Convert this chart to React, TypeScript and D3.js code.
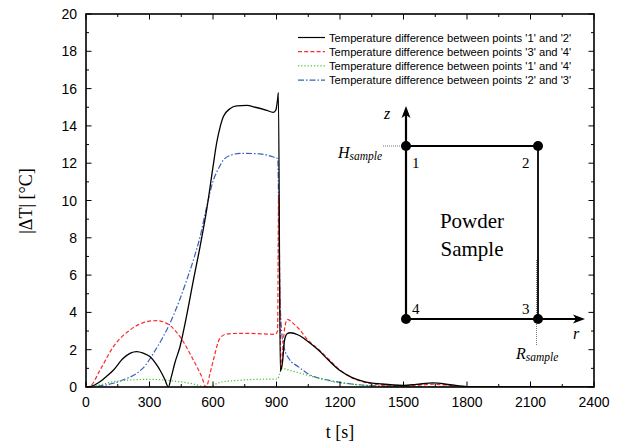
import React from "react";
import * as d3 from "d3";

const xTicks = [0, 300, 600, 900, 1200, 1500, 1800, 2100, 2400];
const yTicks = [0, 2, 4, 6, 8, 10, 12, 14, 16, 18, 20];

const legendLabels = [
  "Temperature difference between points '1' and '2'",
  "Temperature difference between points '3' and '4'",
  "Temperature difference between points '1' and '4'",
  "Temperature difference between points '2' and '3'",
];

// t [s], |dT| [°C]
const series12: [number, number][] = [
  [0, 0], [19, 0.02], [66, 0.28], [100, 0.6], [129, 0.9], [176, 1.54], [210, 1.82], [239, 1.9], [270, 1.82],
  [302, 1.63], [330, 1.25], [350, 0.9], [372, 0.42], [389, 0], [402, 0.5], [420, 1.3], [444, 2.16],
  [475, 3.8], [507, 5.7], [540, 7.6], [570, 9.5], [600, 11.8], [617, 13.07], [635, 14.0], [649, 14.5],
  [680, 14.92], [712, 15.07], [760, 15.1], [800, 15.0], [850, 14.85], [885, 14.73], [897, 14.85],
  [905, 15.4], [909, 15.78], [918, 0.85], [928, 1.3], [938, 2.5], [950, 2.85], [964, 2.91],
  [1003, 2.79], [1050, 2.43], [1098, 1.98], [1145, 1.45], [1200, 0.88], [1255, 0.52], [1318, 0.28],
  [1397, 0.16], [1500, 0.09], [1560, 0.14], [1640, 0.22], [1720, 0.12], [1800, 0.02], [1900, 0], [2400, 0],
];

const series34: [number, number][] = [
  [0, 0], [20, 0.05], [66, 0.9], [129, 2.16], [208, 3.06], [287, 3.5], [334, 3.56], [397, 3.3],
  [444, 2.7], [507, 1.45], [545, 0.6], [568, 0], [586, 0.73], [602, 1.45], [633, 2.62], [665, 2.84],
  [728, 2.88], [854, 2.84], [893, 2.82], [905, 3.0], [910, 10.3], [916, 5.0], [921, 0.9], [932, 2.5],
  [945, 3.5], [953, 3.63], [975, 3.45], [1003, 3.15], [1050, 2.5], [1100, 2.0], [1150, 1.45],
  [1200, 0.9], [1255, 0.5], [1318, 0.25], [1400, 0.1], [1500, 0.05], [1560, 0.08], [1640, 0.15],
  [1720, 0.08], [1800, 0.02], [1900, 0], [2400, 0],
];

const series14: [number, number][] = [
  [0, 0], [60, 0.1], [129, 0.28], [200, 0.37], [302, 0.41], [360, 0.38], [430, 0.3], [500, 0.18],
  [575, 0], [633, 0.25], [700, 0.34], [760, 0.39], [850, 0.42], [905, 0.43], [914, 0.7], [925, 1.0],
  [960, 0.9], [1003, 0.77], [1082, 0.52], [1160, 0.3], [1255, 0.15], [1350, 0.07], [1500, 0.02],
  [1600, 0], [2400, 0],
];

const series23: [number, number][] = [
  [0, 0], [60, 0.05], [129, 0.2], [180, 0.4], [239, 0.73], [280, 1.15], [318, 1.8], [360, 2.6],
  [397, 3.43], [440, 4.6], [476, 5.74], [510, 6.9], [539, 8.06], [570, 9.67], [602, 11.1], [630, 11.8],
  [649, 12.17], [690, 12.45], [728, 12.53], [822, 12.5], [893, 12.3], [906, 12.25], [914, 6.0],
  [924, 3.0], [935, 2.16], [960, 1.5], [1003, 1.09], [1050, 0.7], [1145, 0.37], [1255, 0.16],
  [1350, 0.07], [1500, 0.02], [1600, 0], [2400, 0],
];

const seriesList = [series12, series34, series14, series23];
const colors = ["#000000", "#ff2a2a", "#3fc22a", "#3a5fc0"];
const dashes = ["none", "4,2.2", "1.2,2", "6,2,1.5,2"];

const W = 621;
const H = 447;
const L = 86, R = 594, T = 14, B = 387;

export default function App() {
  const x = d3.scaleLinear().domain([0, 2400]).range([L, R]);
  const y = d3.scaleLinear().domain([0, 20]).range([B, T]);
  const line = d3
    .line<[number, number]>()
    .x((d) => x(d[0]))
    .y((d) => y(d[1]))
    .curve(d3.curveMonotoneX);

  const xMinor = d3.range(0, 2401, 150);
  const yMinor = d3.range(0, 21, 1);
  const tickFont = "'Liberation Sans', Arial, Helvetica, sans-serif";
  const serif = "'Liberation Serif', 'Times New Roman', Times, serif";

  // inset geometry
  const ix0 = 406, ix1 = 538, iy0 = 146, iy1 = 319;

  return (
    <svg
      width={W}
      height={H}
      style={{ position: "absolute", left: 0, top: 0, background: "#fff" }}
      xmlns="http://www.w3.org/2000/svg"
    >
      <defs>
        <clipPath id="plotclip">
          <rect x={L} y={T} width={R - L} height={B - T} />
        </clipPath>
      </defs>
      <rect x={0} y={0} width={W} height={H} fill="#fff" />

      {/* data lines */}
      <g clipPath="url(#plotclip)">
        {[3, 2, 1, 0].map((i) => (
          <path
            key={i}
            d={line(seriesList[i]) || ""}
            fill="none"
            stroke={colors[i]}
            strokeWidth={i === 0 ? 1.3 : 1.2}
            strokeDasharray={dashes[i]}
          />
        ))}
      </g>

      {/* ticks */}
      <g stroke="#000" strokeWidth={1}>
        {xMinor.map((t) => {
          const major = t % 300 === 0;
          const len = major ? 5.5 : 3;
          return (
            <g key={"xt" + t}>
              <line x1={x(t)} x2={x(t)} y1={B} y2={B - len} />
              <line x1={x(t)} x2={x(t)} y1={T} y2={T + len} />
            </g>
          );
        })}
        {yMinor.map((v) => {
          const major = v % 2 === 0;
          const len = major ? 5.5 : 3;
          return (
            <g key={"yt" + v}>
              <line x1={L} x2={L + len} y1={y(v)} y2={y(v)} />
              <line x1={R} x2={R - len} y1={y(v)} y2={y(v)} />
            </g>
          );
        })}
      </g>

      {/* frame */}
      <rect x={L} y={T} width={R - L} height={B - T} fill="none" stroke="#000" strokeWidth={1.6} />

      {/* tick labels */}
      <g fontFamily={tickFont} fontSize={14} fill="#000">
        {xTicks.map((t) => (
          <text key={"xl" + t} x={x(t)} y={407} textAnchor="middle">
            {t}
          </text>
        ))}
        {yTicks.map((v) => (
          <text key={"yl" + v} x={77} y={y(v) + 5} textAnchor="end">
            {v}
          </text>
        ))}
      </g>

      {/* axis titles */}
      <text x={340} y={438} fontFamily={serif} fontSize={18} textAnchor="middle" fill="#000">
        t [s]
      </text>
      <text
        transform="translate(32,201) rotate(-90)"
        fontFamily={serif}
        fontSize={18}
        textAnchor="middle"
        fill="#000"
      >
        |ΔT| [°C]
      </text>

      {/* legend */}
      <g>
        {legendLabels.map((lab, i) => {
          const yy = 37.5 + i * 14.2;
          return (
            <g key={"lg" + i}>
              <line
                x1={298}
                x2={325}
                y1={yy}
                y2={yy}
                stroke={colors[i]}
                strokeWidth={1.2}
                strokeDasharray={dashes[i]}
              />
              <text x={329} y={yy + 4} fontFamily={tickFont} fontSize={11.2} fill="#000">
                {lab}
              </text>
            </g>
          );
        })}
      </g>

      {/* inset diagram */}
      <g>
        {/* dotted guides */}
        <line x1={383} x2={404} y1={iy0} y2={iy0} stroke="#777" strokeWidth={1} strokeDasharray="1,1" />
        <line x1={536.5} x2={536.5} y1={260} y2={345} stroke="#777" strokeWidth={1} strokeDasharray="1,1" />
        {/* rectangle */}
        <line x1={ix0} x2={ix1} y1={iy0} y2={iy0} stroke="#000" strokeWidth={2} />
        <line x1={ix1} x2={ix1} y1={iy0} y2={iy1} stroke="#000" strokeWidth={1.8} />
        <line x1={ix0} x2={ix1} y1={iy1} y2={iy1} stroke="#000" strokeWidth={2} />
        {/* z axis */}
        <line x1={ix0} x2={ix0} y1={iy1} y2={112} stroke="#000" strokeWidth={2.2} />
        <path d={`M${ix0},106 L${ix0 - 4.5},118 L${ix0},115 L${ix0 + 4.5},118 Z`} fill="#000" />
        {/* r axis */}
        <line x1={ix0} x2={578} y1={iy1} y2={iy1} stroke="#000" strokeWidth={2} />
        <path d={`M585,${iy1} L573,${iy1 - 4.5} L576,${iy1} L573,${iy1 + 4.5} Z`} fill="#000" />
        {/* dots */}
        {[
          [ix0, iy0],
          [ix1, iy0],
          [ix1, iy1],
          [ix0, iy1],
        ].map(([cx, cy], i) => (
          <circle key={"dot" + i} cx={cx} cy={cy} r={5} fill="#000" />
        ))}
        <g fill="#000">
          <text x={412} y={168} fontSize={15} fontFamily={serif}>1</text>
          <text x={522} y={168} fontSize={15} fontFamily={serif}>2</text>
          <text x={522} y={314} fontSize={15} fontFamily={serif}>3</text>
          <text x={412} y={314} fontSize={15} fontFamily={serif}>4</text>
          <text x={472} y={228} fontSize={21} fontFamily={serif} textAnchor="middle">Powder</text>
          <text x={472} y={256} fontSize={21} fontFamily={serif} textAnchor="middle">Sample</text>
          <text x={384} y={119} fontSize={16} fontFamily={serif} fontStyle="italic">z</text>
          <text x={573} y={339} fontSize={16} fontFamily={serif} fontStyle="italic">r</text>
          <text x={338} y={158} fontFamily={serif} fontStyle="italic">
            <tspan fontSize={16}>H</tspan>
            <tspan fontSize={11.5} dy={2}>sample</tspan>
          </text>
          <text x={516} y={359} fontFamily={serif} fontStyle="italic">
            <tspan fontSize={16}>R</tspan>
            <tspan fontSize={11.5} dy={2}>sample</tspan>
          </text>
        </g>
      </g>
    </svg>
  );
}
